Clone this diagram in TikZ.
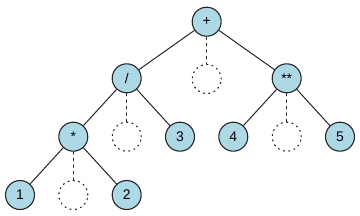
\documentclass[tikz,border=0pt]{standalone}
\usepackage{fontspec}
\setmainfont{Liberation Sans}
\definecolor{nodeblue}{RGB}{173,216,230}
\begin{document}
\begin{tikzpicture}[x=1bp,y=-1bp,line cap=round,line join=round]
  \tikzset{
    opnode/.style={circle,draw=black!85,line width=1.1bp,fill=nodeblue,minimum size=29bp,inner sep=0pt,font=\fontsize{14}{14}\selectfont},
    emptynode/.style={circle,draw=black!85,line width=1.1bp,dash pattern=on 1.2bp off 4.2bp,minimum size=29bp,inner sep=0pt},
    edge/.style={line width=1bp,draw=black!85},
    emptyedge/.style={line width=1bp,draw=black!85,dash pattern=on 2.5bp off 4bp}
  }
  \useasboundingbox (0,0) rectangle (360,216);
  % level 0
  \node[opnode] (plus) at (206.7,21.7) {+};
  % level 1
  \node[opnode] (div) at (126.7,78.3) {/};
  \node[emptynode] (e0) at (206.7,79) {};
  \node[opnode] (pow) at (286.7,78.3) {**};
  % level 2
  \node[opnode] (mul) at (73.3,136.7) {*};
  \node[emptynode] (e1) at (126.7,136.7) {};
  \node[opnode] (three) at (180,136.7) {3};
  \node[opnode] (four) at (233.3,136.7) {4};
  \node[emptynode] (e2) at (286.7,136.7) {};
  \node[opnode] (five) at (340,136.7) {5};
  % level 3
  \node[opnode] (one) at (20,195) {1};
  \node[emptynode] (e3) at (73.3,195) {};
  \node[opnode] (two) at (126.7,195) {2};
  % connectors
  \draw[edge] (plus) -- (div);
  \draw[edge] (plus) -- (pow);
  \draw[emptyedge] (plus) -- (e0);
  \draw[edge] (div) -- (mul);
  \draw[edge] (div) -- (three);
  \draw[emptyedge] (div) -- (e1);
  \draw[edge] (pow) -- (four);
  \draw[edge] (pow) -- (five);
  \draw[emptyedge] (pow) -- (e2);
  \draw[edge] (mul) -- (one);
  \draw[edge] (mul) -- (two);
  \draw[emptyedge] (mul) -- (e3);
\end{tikzpicture}
\end{document}
